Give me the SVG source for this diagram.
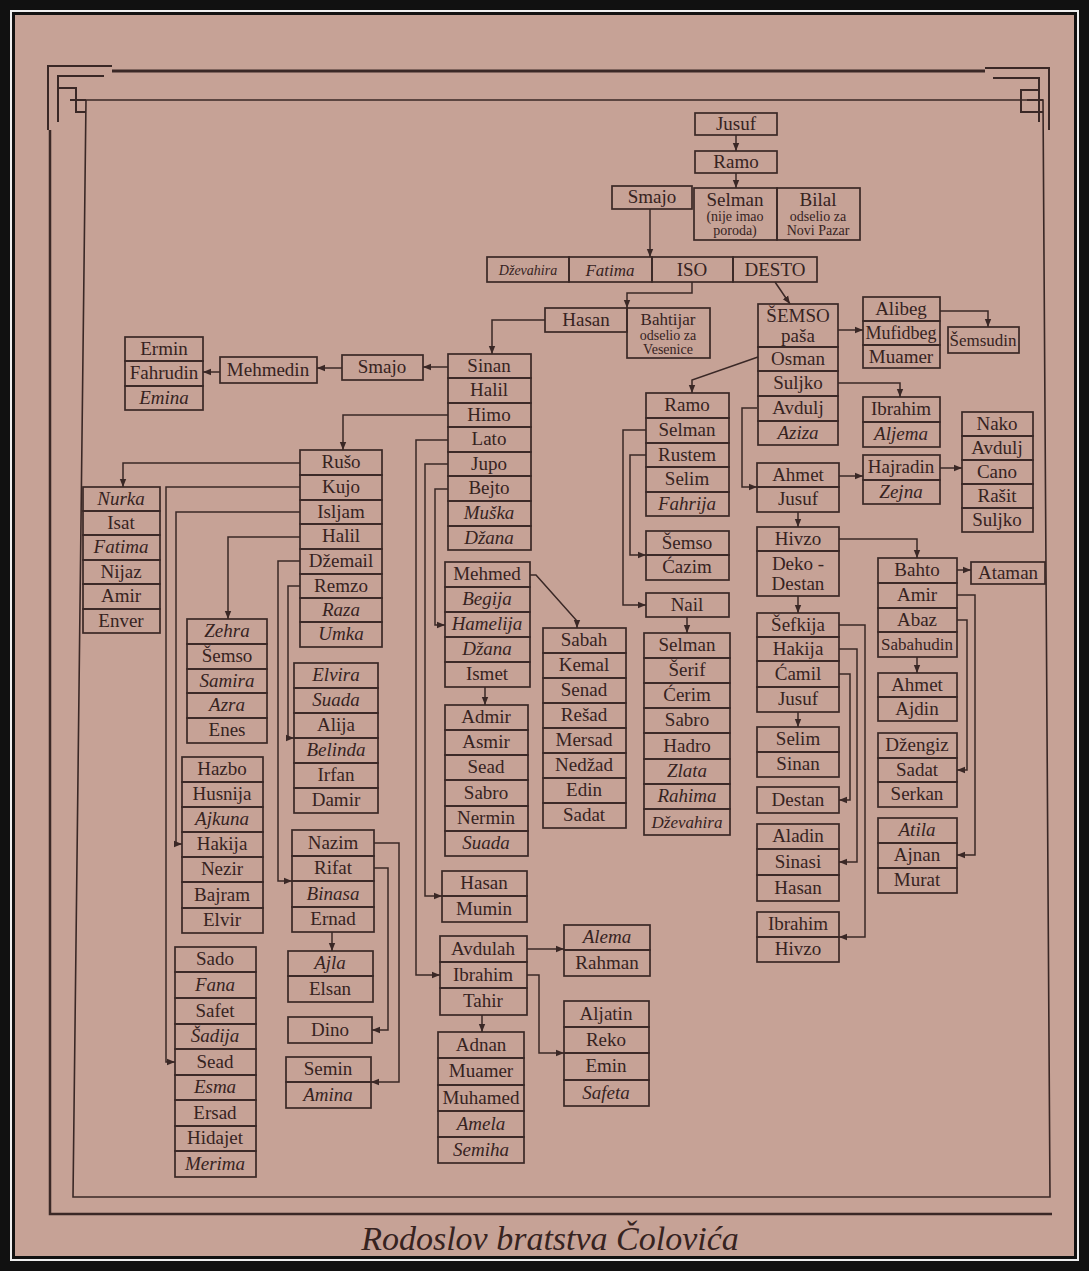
<svg xmlns="http://www.w3.org/2000/svg" width="1089" height="1271" viewBox="0 0 1089 1271">
<defs>
<style>
.b{fill:none;stroke:#3a2826;stroke-width:1.7}
.c{fill:none;stroke:#3a2826;stroke-width:1.5;marker-end:url(#a)}
text{font-family:"Liberation Serif","DejaVu Serif",serif;font-size:19px;fill:#36231f;text-anchor:middle}
.i{font-style:italic}
.s{font-size:14px}
.m{font-size:17px}
.f{fill:none;stroke:#3a2826}
</style>
<marker id="a" viewBox="0 0 10 10" refX="10" refY="5" markerWidth="8" markerHeight="8" orient="auto" markerUnits="userSpaceOnUse"><path d="M0,1 L10,5 L0,9 z" fill="#3a2826"/></marker>
</defs>
<rect x="0" y="0" width="1089" height="1271" fill="#111"/>
<rect x="11" y="11" width="1067" height="1249" fill="none" stroke="#eee" stroke-width="2"/>
<rect x="15" y="15" width="1059" height="1241" fill="#c6a296"/>
<g id="frame">
<path class="f" d="M112 71 H985" stroke-width="3"/>
<path class="f" d="M86 100 H1043 L1050 1197 H73 Z" stroke-width="1.6"/>
<path class="f" d="M50 130 V1214 H1052" stroke-width="2.5"/>
<path class="f" d="M48 130 V66 H112 M58 122 V76 H104 M58 88 H76 V112 H86 M70 100 H86" stroke-width="2"/>
<path class="f" d="M1049 130 V68 H985 M1039 122 V78 H993 M1039 90 H1021 V112 H1043 M1027 100 H1043" stroke-width="2"/>
<text x="550" y="1250" class="i" style="font-size:34px">Rodoslov bratstva Čolovića</text>
</g>
<g id="connectors">
<path class="c" d="M736 135 V151"/>
<path class="c" d="M736 173 V188"/>
<path class="c" d="M650 209 V257"/>
<path class="c" d="M692 282 V293 H627 V308"/>
<path class="c" d="M775 282 L790 304"/>
<path class="c" d="M838 330 H863"/>
<path class="c" d="M940 311 H988 V327"/>
<path class="c" d="M838 383 H900 V397"/>
<path class="c" d="M839 476 H863"/>
<path class="c" d="M940 468 H962"/>
<path class="c" d="M758 357 L692 380 V393"/>
<path class="c" d="M757 408 H742 V487 H757"/>
<path class="c" d="M646 430 H623 V605 H646"/>
<path class="c" d="M646 455 H630 V555 H646"/>
<path class="c" d="M687 617 V633"/>
<path class="c" d="M798 512 V527"/>
<path class="c" d="M839 539 H917 V558"/>
<path class="c" d="M798 596 V613"/>
<path class="c" d="M798 712 V727"/>
<path class="c" d="M839 625 H865 V937 H839"/>
<path class="c" d="M839 649 H857 V862 H839"/>
<path class="c" d="M839 674 H850 V800 H839"/>
<path class="c" d="M957 570 H971"/>
<path class="c" d="M917 657 V673"/>
<path class="c" d="M957 595 H975 V855 H957"/>
<path class="c" d="M957 620 H967 V770 H957"/>
<path class="c" d="M545 320 H492 V354"/>
<path class="c" d="M448 367 H423"/>
<path class="c" d="M342 368 H317"/>
<path class="c" d="M220 372 H203"/>
<path class="c" d="M448 415 H343 V450"/>
<path class="c" d="M448 440 H416 V975 H440"/>
<path class="c" d="M448 464 H425 V896 H442"/>
<path class="c" d="M448 489 H435 V625 H445"/>
<path class="c" d="M530 575 H536 L577 621 V628"/>
<path class="c" d="M485 687 V705"/>
<path class="c" d="M482 1015 V1032"/>
<path class="c" d="M527 949 H564"/>
<path class="c" d="M527 975 H539 V1053 H564"/>
<path class="c" d="M300 463 H123 V487"/>
<path class="c" d="M300 487 H166 V1062 H175"/>
<path class="c" d="M300 512 H176 V844 H182"/>
<path class="c" d="M300 537 H228 V619"/>
<path class="c" d="M300 561 H278 V881 H292"/>
<path class="c" d="M300 586 H288 V738 H294"/>
<path class="c" d="M332 932 V951"/>
<path class="c" d="M374 868 H388 V1030 H372"/>
<path class="c" d="M374 843 H399 V1082 H371"/>
</g>
<g id="n-jusuf"><rect class="b" x="695" y="113" width="82" height="22"/><text x="736" y="130">Jusuf</text></g>
<g id="n-ramo"><rect class="b" x="695" y="151" width="82" height="22"/><text x="736" y="168">Ramo</text></g>
<g id="n-smajo0"><rect class="b" x="612" y="186" width="80" height="23"/><text x="652" y="203">Smajo</text></g>
<g id="n-selman0"><rect class="b" x="694" y="188" width="83" height="52"/><text x="735" y="206">Selman</text><text x="735" y="221" class="s">(nije imao</text><text x="735" y="235" class="s">poroda)</text></g>
<g id="n-bilal"><rect class="b" x="777" y="188" width="83" height="52"/><text x="818" y="206">Bilal</text><text x="818" y="221" class="s">odselio za</text><text x="818" y="235" class="s">Novi Pazar</text></g>
<g id="n-iso"><rect class="b" x="487" y="257" width="82" height="25"/><text x="528" y="275" class="i s">Dževahira</text><rect class="b" x="569" y="257" width="83" height="25"/><text x="610" y="276" class="i m">Fatima</text><rect class="b" x="652" y="257" width="81" height="25"/><text x="692" y="276">ISO</text><rect class="b" x="733" y="257" width="84" height="25"/><text x="775" y="276">DESTO</text></g>
<g id="n-hasan0"><rect class="b" x="545" y="308" width="82" height="24"/><text x="586" y="326">Hasan</text></g>
<g id="n-bahtijar"><rect class="b" x="627" y="308" width="83" height="50"/><text x="668" y="325" class="m">Bahtijar</text><text x="668" y="340" class="s">odselio za</text><text x="668" y="354" class="s">Vesenice</text></g>
<g id="n-semso"><rect class="b" x="758" y="304" width="80" height="43"/><text x="798" y="322">ŠEMSO</text><text x="798" y="342">paša</text><rect class="b" x="758" y="347" width="80" height="24"/><text x="798" y="365">Osman</text><rect class="b" x="758" y="371" width="80" height="25"/><text x="798" y="389">Suljko</text><rect class="b" x="758" y="396" width="80" height="25"/><text x="798" y="414">Avdulj</text><rect class="b" x="758" y="421" width="80" height="24"/><text x="798" y="439" class="i">Aziza</text></g>
<g id="n-alibeg"><rect class="b" x="863" y="297" width="77" height="24"/><text x="901" y="315">Alibeg</text><rect class="b" x="863" y="321" width="77" height="24"/><text x="901" y="339" style="font-size:18px">Mufidbeg</text><rect class="b" x="863" y="345" width="77" height="23"/><text x="901" y="363">Muamer</text></g>
<g id="n-semsudin"><rect class="b" x="948" y="327" width="71" height="26"/><text x="983" y="346" class="m">Šemsudin</text></g>
<g id="n-ibrahim2"><rect class="b" x="863" y="397" width="77" height="25"/><text x="901" y="415">Ibrahim</text><rect class="b" x="863" y="422" width="77" height="25"/><text x="901" y="440" class="i">Aljema</text></g>
<g id="n-hajradin"><rect class="b" x="863" y="455" width="77" height="25"/><text x="901" y="473">Hajradin</text><rect class="b" x="863" y="480" width="77" height="24"/><text x="901" y="498" class="i">Zejna</text></g>
<g id="n-nako"><rect class="b" x="962" y="412" width="71" height="24"/><text x="997" y="430">Nako</text><rect class="b" x="962" y="436" width="71" height="24"/><text x="997" y="454">Avdulj</text><rect class="b" x="962" y="460" width="71" height="24"/><text x="997" y="478">Cano</text><rect class="b" x="962" y="484" width="71" height="24"/><text x="997" y="502">Rašit</text><rect class="b" x="962" y="508" width="71" height="24"/><text x="997" y="526">Suljko</text></g>
<g id="n-ramo2"><rect class="b" x="646" y="393" width="83" height="25"/><text x="687" y="411">Ramo</text><rect class="b" x="646" y="418" width="83" height="25"/><text x="687" y="436">Selman</text><rect class="b" x="646" y="443" width="83" height="24"/><text x="687" y="461">Rustem</text><rect class="b" x="646" y="467" width="83" height="25"/><text x="687" y="485">Selim</text><rect class="b" x="646" y="492" width="83" height="24"/><text x="687" y="510" class="i">Fahrija</text></g>
<g id="n-semso2"><rect class="b" x="646" y="531" width="83" height="24"/><text x="687" y="549">Šemso</text><rect class="b" x="646" y="555" width="83" height="25"/><text x="687" y="573">Ćazim</text></g>
<g id="n-nail"><rect class="b" x="646" y="593" width="83" height="24"/><text x="687" y="611">Nail</text></g>
<g id="n-selman3"><rect class="b" x="644" y="633" width="86" height="25"/><text x="687" y="651">Selman</text><rect class="b" x="644" y="658" width="86" height="25"/><text x="687" y="676">Šerif</text><rect class="b" x="644" y="683" width="86" height="25"/><text x="687" y="701">Ćerim</text><rect class="b" x="644" y="708" width="86" height="25"/><text x="687" y="726">Sabro</text><rect class="b" x="644" y="733" width="86" height="26"/><text x="687" y="752">Hadro</text><rect class="b" x="644" y="759" width="86" height="25"/><text x="687" y="777" class="i">Zlata</text><rect class="b" x="644" y="784" width="86" height="25"/><text x="687" y="802" class="i">Rahima</text><rect class="b" x="644" y="809" width="86" height="26"/><text x="687" y="828" class="i m">Dževahira</text></g>
<g id="n-ahmet"><rect class="b" x="757" y="463" width="82" height="24"/><text x="798" y="481">Ahmet</text><rect class="b" x="757" y="487" width="82" height="25"/><text x="798" y="505">Jusuf</text></g>
<g id="n-hivzo"><rect class="b" x="757" y="527" width="82" height="24"/><text x="798" y="545">Hivzo</text><rect class="b" x="757" y="551" width="82" height="45"/><text x="798" y="570">Deko -</text><text x="798" y="590">Destan</text></g>
<g id="n-sefkija"><rect class="b" x="757" y="613" width="82" height="24"/><text x="798" y="631">Šefkija</text><rect class="b" x="757" y="637" width="82" height="24"/><text x="798" y="655">Hakija</text><rect class="b" x="757" y="661" width="82" height="26"/><text x="798" y="680">Ćamil</text><rect class="b" x="757" y="687" width="82" height="25"/><text x="798" y="705">Jusuf</text></g>
<g id="n-selim"><rect class="b" x="757" y="727" width="82" height="25"/><text x="798" y="745">Selim</text><rect class="b" x="757" y="752" width="82" height="25"/><text x="798" y="770">Sinan</text></g>
<g id="n-destan"><rect class="b" x="757" y="787" width="82" height="26"/><text x="798" y="806">Destan</text></g>
<g id="n-aladin"><rect class="b" x="757" y="824" width="82" height="25"/><text x="798" y="842">Aladin</text><rect class="b" x="757" y="849" width="82" height="26"/><text x="798" y="868">Sinasi</text><rect class="b" x="757" y="875" width="82" height="26"/><text x="798" y="894">Hasan</text></g>
<g id="n-ibrahim3"><rect class="b" x="757" y="912" width="82" height="25"/><text x="798" y="930">Ibrahim</text><rect class="b" x="757" y="937" width="82" height="25"/><text x="798" y="955">Hivzo</text></g>
<g id="n-bahto"><rect class="b" x="878" y="558" width="79" height="25"/><text x="917" y="576">Bahto</text><rect class="b" x="878" y="583" width="79" height="25"/><text x="917" y="601">Amir</text><rect class="b" x="878" y="608" width="79" height="24"/><text x="917" y="626">Abaz</text><rect class="b" x="878" y="632" width="79" height="25"/><text x="917" y="650" class="m">Sabahudin</text></g>
<g id="n-ataman"><rect class="b" x="971" y="562" width="74" height="22"/><text x="1008" y="579">Ataman</text></g>
<g id="n-ahmet2"><rect class="b" x="878" y="673" width="79" height="24"/><text x="917" y="691">Ahmet</text><rect class="b" x="878" y="697" width="79" height="24"/><text x="917" y="715">Ajdin</text></g>
<g id="n-dzengiz"><rect class="b" x="878" y="733" width="79" height="25"/><text x="917" y="751">Džengiz</text><rect class="b" x="878" y="758" width="79" height="24"/><text x="917" y="776">Sadat</text><rect class="b" x="878" y="782" width="79" height="25"/><text x="917" y="800">Serkan</text></g>
<g id="n-atila"><rect class="b" x="878" y="818" width="79" height="25"/><text x="917" y="836" class="i">Atila</text><rect class="b" x="878" y="843" width="79" height="25"/><text x="917" y="861">Ajnan</text><rect class="b" x="878" y="868" width="79" height="25"/><text x="917" y="886">Murat</text></g>
<g id="n-sinan"><rect class="b" x="448" y="354" width="83" height="24"/><text x="489" y="372">Sinan</text><rect class="b" x="448" y="378" width="83" height="25"/><text x="489" y="396">Halil</text><rect class="b" x="448" y="403" width="83" height="24"/><text x="489" y="421">Himo</text><rect class="b" x="448" y="427" width="83" height="25"/><text x="489" y="445">Lato</text><rect class="b" x="448" y="452" width="83" height="24"/><text x="489" y="470">Jupo</text><rect class="b" x="448" y="476" width="83" height="25"/><text x="489" y="494">Bejto</text><rect class="b" x="448" y="501" width="83" height="25"/><text x="489" y="519" class="i">Muška</text><rect class="b" x="448" y="526" width="83" height="24"/><text x="489" y="544" class="i">Džana</text></g>
<g id="n-smajo2"><rect class="b" x="342" y="355" width="81" height="25"/><text x="382" y="373">Smajo</text></g>
<g id="n-mehmedin"><rect class="b" x="220" y="357" width="97" height="26"/><text x="268" y="376">Mehmedin</text></g>
<g id="n-ermin"><rect class="b" x="125" y="337" width="78" height="24"/><text x="164" y="355">Ermin</text><rect class="b" x="125" y="361" width="78" height="25"/><text x="164" y="379">Fahrudin</text><rect class="b" x="125" y="386" width="78" height="24"/><text x="164" y="404" class="i">Emina</text></g>
<g id="n-ruso"><rect class="b" x="300" y="450" width="82" height="25"/><text x="341" y="468">Rušo</text><rect class="b" x="300" y="475" width="82" height="25"/><text x="341" y="493">Kujo</text><rect class="b" x="300" y="500" width="82" height="24"/><text x="341" y="518">Isljam</text><rect class="b" x="300" y="524" width="82" height="25"/><text x="341" y="542">Halil</text><rect class="b" x="300" y="549" width="82" height="25"/><text x="341" y="567">Džemail</text><rect class="b" x="300" y="574" width="82" height="24"/><text x="341" y="592">Remzo</text><rect class="b" x="300" y="598" width="82" height="24"/><text x="341" y="616" class="i">Raza</text><rect class="b" x="300" y="622" width="82" height="25"/><text x="341" y="640" class="i">Umka</text></g>
<g id="n-nurka"><rect class="b" x="83" y="487" width="77" height="24"/><text x="121" y="505" class="i">Nurka</text><rect class="b" x="83" y="511" width="77" height="24"/><text x="121" y="529">Isat</text><rect class="b" x="83" y="535" width="77" height="25"/><text x="121" y="553" class="i">Fatima</text><rect class="b" x="83" y="560" width="77" height="24"/><text x="121" y="578">Nijaz</text><rect class="b" x="83" y="584" width="77" height="25"/><text x="121" y="602">Amir</text><rect class="b" x="83" y="609" width="77" height="24"/><text x="121" y="627">Enver</text></g>
<g id="n-zehra"><rect class="b" x="187" y="619" width="80" height="25"/><text x="227" y="637" class="i">Zehra</text><rect class="b" x="187" y="644" width="80" height="25"/><text x="227" y="662">Šemso</text><rect class="b" x="187" y="669" width="80" height="24"/><text x="227" y="687" class="i">Samira</text><rect class="b" x="187" y="693" width="80" height="25"/><text x="227" y="711" class="i">Azra</text><rect class="b" x="187" y="718" width="80" height="25"/><text x="227" y="736">Enes</text></g>
<g id="n-elvira"><rect class="b" x="294" y="663" width="84" height="25"/><text x="336" y="681" class="i">Elvira</text><rect class="b" x="294" y="688" width="84" height="25"/><text x="336" y="706" class="i">Suada</text><rect class="b" x="294" y="713" width="84" height="25"/><text x="336" y="731">Alija</text><rect class="b" x="294" y="738" width="84" height="25"/><text x="336" y="756" class="i">Belinda</text><rect class="b" x="294" y="763" width="84" height="25"/><text x="336" y="781">Irfan</text><rect class="b" x="294" y="788" width="84" height="25"/><text x="336" y="806">Damir</text></g>
<g id="n-hazbo"><rect class="b" x="182" y="757" width="81" height="25"/><text x="222" y="775">Hazbo</text><rect class="b" x="182" y="782" width="81" height="25"/><text x="222" y="800">Husnija</text><rect class="b" x="182" y="807" width="81" height="25"/><text x="222" y="825" class="i">Ajkuna</text><rect class="b" x="182" y="832" width="81" height="25"/><text x="222" y="850">Hakija</text><rect class="b" x="182" y="857" width="81" height="25"/><text x="222" y="875">Nezir</text><rect class="b" x="182" y="882" width="81" height="26"/><text x="222" y="901">Bajram</text><rect class="b" x="182" y="908" width="81" height="25"/><text x="222" y="926">Elvir</text></g>
<g id="n-nazim"><rect class="b" x="292" y="830" width="82" height="26"/><text x="333" y="849">Nazim</text><rect class="b" x="292" y="856" width="82" height="25"/><text x="333" y="874">Rifat</text><rect class="b" x="292" y="881" width="82" height="26"/><text x="333" y="900" class="i">Binasa</text><rect class="b" x="292" y="907" width="82" height="25"/><text x="333" y="925">Ernad</text></g>
<g id="n-ajla"><rect class="b" x="288" y="951" width="85" height="25"/><text x="330" y="969" class="i">Ajla</text><rect class="b" x="288" y="976" width="85" height="26"/><text x="330" y="995">Elsan</text></g>
<g id="n-dino"><rect class="b" x="288" y="1017" width="84" height="26"/><text x="330" y="1036">Dino</text></g>
<g id="n-semin"><rect class="b" x="286" y="1057" width="85" height="25"/><text x="328" y="1075">Semin</text><rect class="b" x="286" y="1082" width="85" height="26"/><text x="328" y="1101" class="i">Amina</text></g>
<g id="n-sado"><rect class="b" x="175" y="947" width="81" height="25"/><text x="215" y="965">Sado</text><rect class="b" x="175" y="972" width="81" height="26"/><text x="215" y="991" class="i">Fana</text><rect class="b" x="175" y="998" width="81" height="26"/><text x="215" y="1017">Safet</text><rect class="b" x="175" y="1024" width="81" height="25"/><text x="215" y="1042" class="i">Šadija</text><rect class="b" x="175" y="1049" width="81" height="26"/><text x="215" y="1068">Sead</text><rect class="b" x="175" y="1075" width="81" height="25"/><text x="215" y="1093" class="i">Esma</text><rect class="b" x="175" y="1100" width="81" height="26"/><text x="215" y="1119">Ersad</text><rect class="b" x="175" y="1126" width="81" height="25"/><text x="215" y="1144">Hidajet</text><rect class="b" x="175" y="1151" width="81" height="26"/><text x="215" y="1170" class="i">Merima</text></g>
<g id="n-mehmed"><rect class="b" x="445" y="562" width="85" height="25"/><text x="487" y="580">Mehmed</text><rect class="b" x="445" y="587" width="85" height="25"/><text x="487" y="605" class="i">Begija</text><rect class="b" x="445" y="612" width="85" height="25"/><text x="487" y="630" class="i">Hamelija</text><rect class="b" x="445" y="637" width="85" height="25"/><text x="487" y="655" class="i">Džana</text><rect class="b" x="445" y="662" width="85" height="25"/><text x="487" y="680">Ismet</text></g>
<g id="n-sabah"><rect class="b" x="543" y="628" width="83" height="25"/><text x="584" y="646">Sabah</text><rect class="b" x="543" y="653" width="83" height="25"/><text x="584" y="671">Kemal</text><rect class="b" x="543" y="678" width="83" height="25"/><text x="584" y="696">Senad</text><rect class="b" x="543" y="703" width="83" height="25"/><text x="584" y="721">Rešad</text><rect class="b" x="543" y="728" width="83" height="25"/><text x="584" y="746">Mersad</text><rect class="b" x="543" y="753" width="83" height="25"/><text x="584" y="771">Nedžad</text><rect class="b" x="543" y="778" width="83" height="25"/><text x="584" y="796">Edin</text><rect class="b" x="543" y="803" width="83" height="25"/><text x="584" y="821">Sadat</text></g>
<g id="n-admir"><rect class="b" x="445" y="705" width="83" height="25"/><text x="486" y="723">Admir</text><rect class="b" x="445" y="730" width="83" height="25"/><text x="486" y="748">Asmir</text><rect class="b" x="445" y="755" width="83" height="25"/><text x="486" y="773">Sead</text><rect class="b" x="445" y="780" width="83" height="26"/><text x="486" y="799">Sabro</text><rect class="b" x="445" y="806" width="83" height="25"/><text x="486" y="824">Nermin</text><rect class="b" x="445" y="831" width="83" height="25"/><text x="486" y="849" class="i">Suada</text></g>
<g id="n-hasanm"><rect class="b" x="442" y="871" width="85" height="25"/><text x="484" y="889">Hasan</text><rect class="b" x="442" y="896" width="85" height="26"/><text x="484" y="915">Mumin</text></g>
<g id="n-avdulah"><rect class="b" x="440" y="936" width="87" height="26"/><text x="483" y="955">Avdulah</text><rect class="b" x="440" y="962" width="87" height="26"/><text x="483" y="981">Ibrahim</text><rect class="b" x="440" y="988" width="87" height="27"/><text x="483" y="1007">Tahir</text></g>
<g id="n-adnan"><rect class="b" x="438" y="1032" width="86" height="26"/><text x="481" y="1051">Adnan</text><rect class="b" x="438" y="1058" width="86" height="27"/><text x="481" y="1077">Muamer</text><rect class="b" x="438" y="1085" width="86" height="26"/><text x="481" y="1104">Muhamed</text><rect class="b" x="438" y="1111" width="86" height="26"/><text x="481" y="1130" class="i">Amela</text><rect class="b" x="438" y="1137" width="86" height="26"/><text x="481" y="1156" class="i">Semiha</text></g>
<g id="n-alema"><rect class="b" x="564" y="925" width="86" height="25"/><text x="607" y="943" class="i">Alema</text><rect class="b" x="564" y="950" width="86" height="26"/><text x="607" y="969">Rahman</text></g>
<g id="n-aljatin"><rect class="b" x="564" y="1001" width="85" height="26"/><text x="606" y="1020">Aljatin</text><rect class="b" x="564" y="1027" width="85" height="26"/><text x="606" y="1046">Reko</text><rect class="b" x="564" y="1053" width="85" height="27"/><text x="606" y="1072">Emin</text><rect class="b" x="564" y="1080" width="85" height="26"/><text x="606" y="1099" class="i">Safeta</text></g>
</svg>
